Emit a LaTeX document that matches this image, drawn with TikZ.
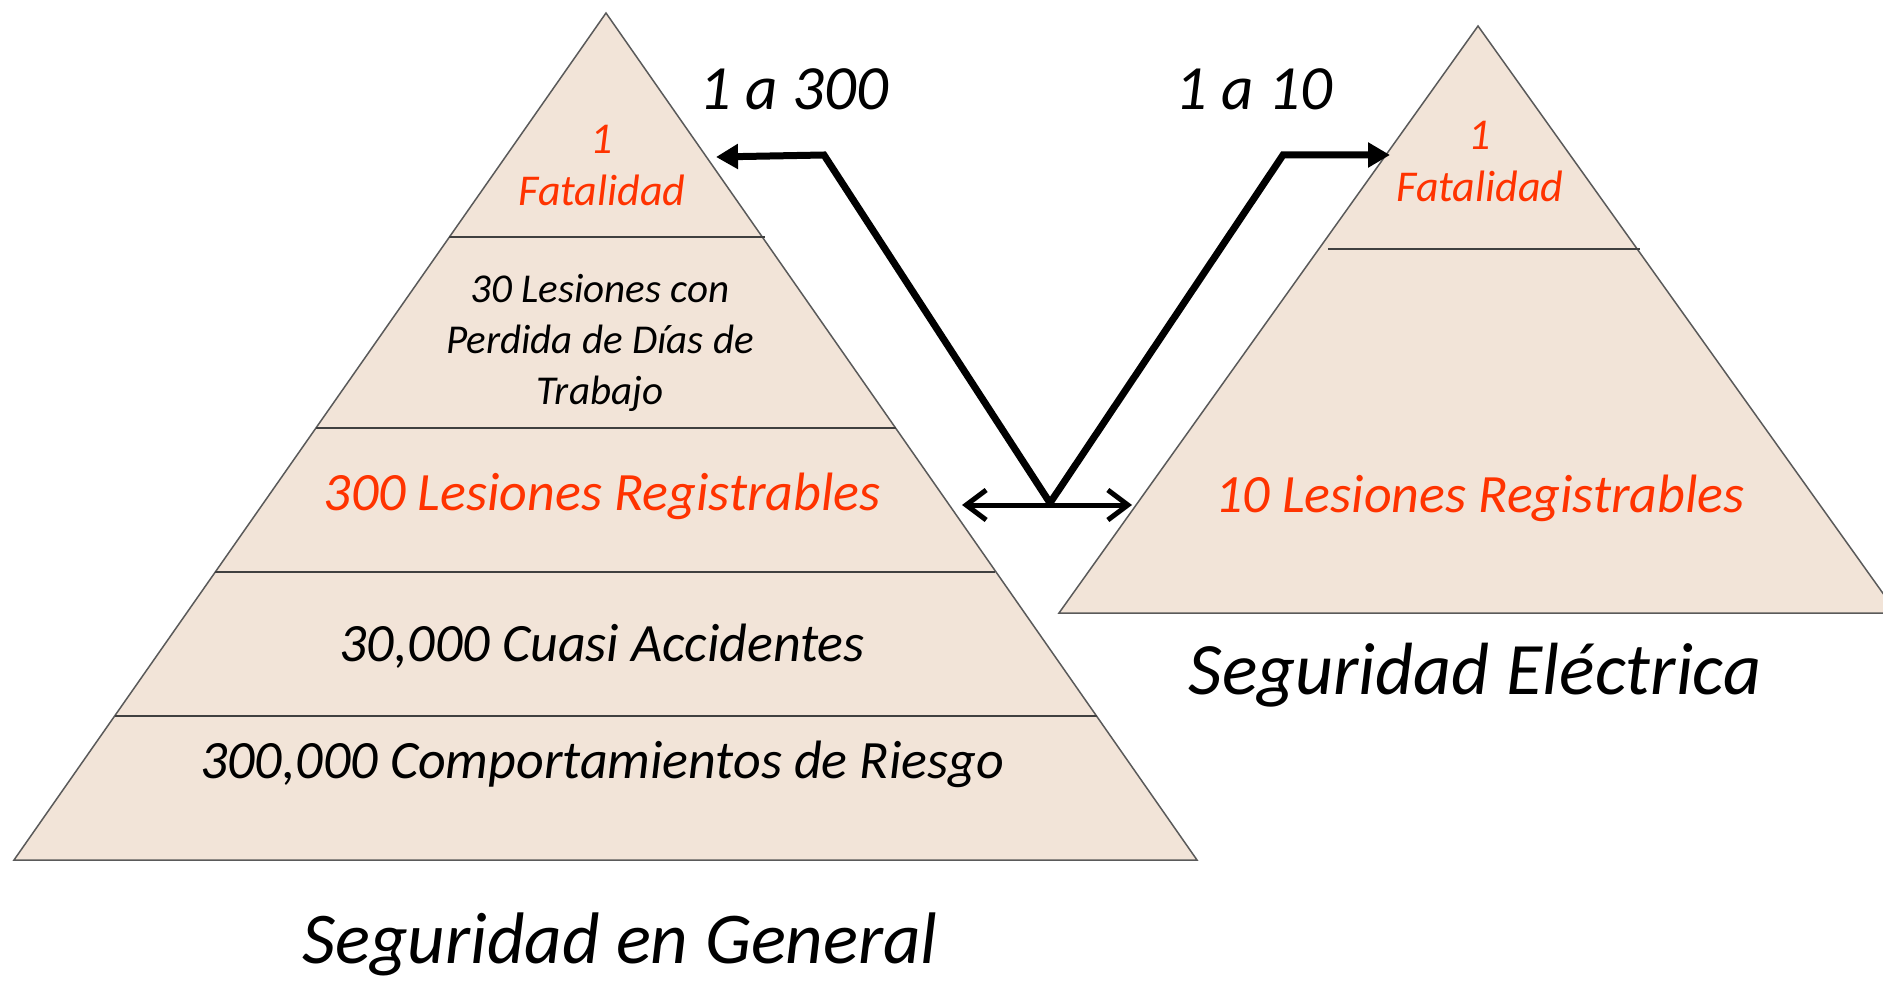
\documentclass[tikz,border=0pt]{standalone}
\usepackage{fontspec}
\setmainfont{Carlito}
\usetikzlibrary{arrows.meta}
\definecolor{piel}{HTML}{F2E4D8}
\definecolor{rojo}{HTML}{FF3300}
\definecolor{borde}{HTML}{5A5A5A}
\def\fs#1#2{\fontsize{#1}{#2}\selectfont\itshape}
\tikzset{
	capa/.style={fill=piel, draw=borde, line width=1.5pt},
	corte/.style={draw=black!75, line width=2.5pt},
	txt/.style={align=center, inner sep=0pt},
	flecha/.style={line width=7pt, line join=miter, -{Triangle[length=22pt,width=24pt]}},
	doble/.style={line width=5pt, {Straight Barb[length=20pt,width=30pt]}-{Straight Barb[length=20pt,width=30pt]}}
}

\begin{document}
\begin{tikzpicture}[x=1pt, y=-1pt]
		\useasboundingbox (0,0) rectangle (1883,984);
		%%%%% START %%%%%
		
		% piramide general
		\draw[capa] (606,13) -- (1197,860) -- (14,860) -- cycle;
		\draw[corte] (449,237) -- (765,237);
		\draw[corte] (316,428) -- (896,428);
		\draw[corte] (215,572) -- (995,572);
		\draw[corte] (115,716) -- (1097,716);
		
		% piramide electrica
		\draw[capa] (1478,26) -- (1897,613) -- (1059,613) -- cycle;
		\draw[corte] (1328,249) -- (1640,249);
		
		\node[txt, text=rojo, font=\fs{44}{52}] (gfatal) at (602,166) {1\\Fatalidad};
		\node[txt, font=\fs{41}{51}] (gdias) at (600,343) {30 Lesiones con\\Perdida de Días de\\Trabajo};
		\node[txt, text=rojo, font=\fs{54}{60}] (greg) at (602,496) {300 Lesiones Registrables};
		\node[txt, font=\fs{54}{60}] (gcuasi) at (602,646) {30,000 Cuasi Accidentes};
		\node[txt, font=\fs{54}{60}] (griesgo) at (602,764) {300,000 Comportamientos de Riesgo};
		\node[txt, font=\fs{73}{80}] (gtitulo) at (620,944) {Seguridad en General};
		
		\node[txt, text=rojo, font=\fs{44}{52}] (efatal) at (1480,162) {1\\Fatalidad};
		\node[txt, text=rojo, font=\fs{54}{60}] (ereg) at (1480,498) {10 Lesiones Registrables};
		\node[txt, font=\fs{74}{80}] (etitulo) at (1475,675) {Seguridad Eléctrica};
		
		\node[txt, font=\fs{63}{70}] (r300) at (794,89) {1 a 300};
		\node[txt, font=\fs{63}{70}] (r10) at (1254,89) {1 a 10};
		
		% flechas
		\coordinate (v) at (1050,503);
		\coordinate (codoI) at (824,155);
		\coordinate (codoD) at (1283,155);
		\coordinate (puntaI) at (716,157);
		\coordinate (puntaD) at (1390,155);
		\coordinate (ladoI) at (962,505);
		\coordinate (ladoD) at (1132,505);
		\draw[flecha] (v) -- (codoI) -- (puntaI);
		\draw[flecha] (v) -- (codoD) -- (puntaD);
		\draw[doble] (ladoI) -- (ladoD);
		
		%%%%% END %%%%%
\end{tikzpicture}
\end{document}
